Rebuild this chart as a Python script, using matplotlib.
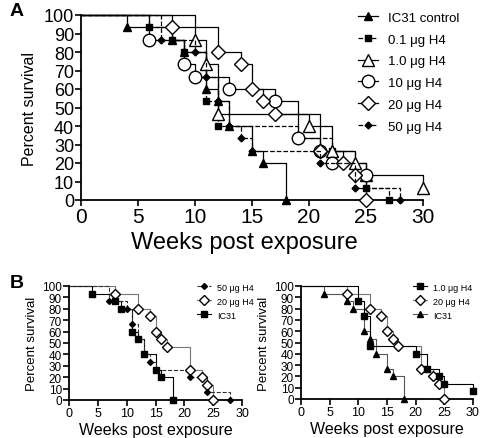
import matplotlib
matplotlib.use("Agg")
import matplotlib.pyplot as plt
from matplotlib.lines import Line2D

plt.rcParams['font.family'] = ['Liberation Sans', 'DejaVu Sans']

# survival data (weeks, percent survival)
weeks_ic31 = [0, 4, 8, 9, 11, 12, 13, 15, 16, 18]
surv_ic31 = [100, 93.3, 86.7, 80, 60, 53.3, 40, 26.7, 20, 0]
weeks_h4_01 = [0, 6, 8, 9, 11, 12, 19, 22, 24, 25, 27]
surv_h4_01 = [100, 93.3, 86.7, 80, 53.3, 40, 33.3, 26.7, 13.3, 6.7, 0]
weeks_h4_1 = [0, 10, 11, 12, 20, 22, 24, 25, 30]
surv_h4_1 = [100, 86.7, 73.3, 46.7, 40, 26.7, 20, 13.3, 6.7]
weeks_h4_10 = [0, 6, 9, 10, 13, 17, 19, 21, 22, 25]
surv_h4_10 = [100, 86.7, 73.3, 66.7, 60, 53.3, 33.3, 26.7, 20, 13.3]
weeks_h4_20 = [0, 8, 12, 14, 15, 16, 17, 21, 23, 24, 25]
surv_h4_20 = [100, 93.3, 80, 73.3, 60, 53.3, 46.7, 26.7, 20, 13.3, 0]
weeks_h4_50 = [0, 7, 10, 11, 12, 13, 14, 15, 21, 24, 28]
surv_h4_50 = [100, 86.7, 80, 66.7, 53.3, 40, 33.3, 26.7, 20, 6.7, 0]

labels_a = ["IC31 control", "0.1 \u03bcg H4", "1.0 \u03bcg H4", "10 \u03bcg H4", "20 \u03bcg H4", "50 \u03bcg H4"]


def km(ax, t, s, marker, ms, mfc, ls, color, lw, zorder):
    ax.step(t, s, where='post', color=color, ls=ls, lw=lw, zorder=zorder, clip_on=False)
    ax.plot(t[1:], s[1:], ls='none', marker=marker, ms=ms, mfc=mfc, mec='black',
            mew=1.0, zorder=zorder + 1, clip_on=False)
    return Line2D([], [], color=color, ls=ls, lw=lw, marker=marker, ms=ms, mfc=mfc, mec='black')


def style(ax, fs_ytick, fs_xtick, fs_ylab, fs_xlab, ypad, xpad):
    ax.set_xlim(0, 30)
    ax.set_ylim(0, 100)
    ax.set_xticks(range(0, 31, 5))
    ax.set_yticks(range(0, 101, 10))
    ax.spines['top'].set_visible(False)
    ax.spines['right'].set_visible(False)
    ax.spines['left'].set_linewidth(1.3)
    ax.spines['bottom'].set_linewidth(1.3)
    ax.tick_params(width=1.2, length=4, pad=1)
    ax.tick_params(axis='y', labelsize=fs_ytick)
    ax.tick_params(axis='x', labelsize=fs_xtick)
    ax.set_ylabel("Percent survival", fontsize=fs_ylab, labelpad=ypad)
    ax.set_xlabel("Weeks post exposure", fontsize=fs_xlab, labelpad=xpad)


fig = plt.figure(figsize=(4.84, 4.39), dpi=100)

# panel A
axA = fig.add_axes([81 / 484, 1 - 201 / 439, 342 / 484, 185 / 439])
h = []
h.append(km(axA, weeks_ic31, surv_ic31, '^', 6, 'black', '-', 'black', 0.9, 3))
h.append(km(axA, weeks_h4_01, surv_h4_01, 's', 5, 'black', '--', 'black', 0.9, 3))
h.append(km(axA, weeks_h4_1, surv_h4_1, '^', 9, 'white', '-', 'black', 0.9, 4))
h.append(km(axA, weeks_h4_10, surv_h4_10, 'o', 9, 'white', '-', 'black', 0.9, 4))
h.append(km(axA, weeks_h4_20, surv_h4_20, 'D', 7, 'white', '-', 'black', 0.9, 4))
h.append(km(axA, weeks_h4_50, surv_h4_50, 'D', 3.5, 'black', '--', 'black', 0.9, 5))
style(axA, 13, 15, 11.5, 17, 5, 4)
axA.xaxis.set_label_coords(0.477, -0.17)
axA.legend(h, labels_a, loc='upper left', bbox_to_anchor=(0.81, 1.018), frameon=False,
           fontsize=9.5, handlelength=1.5, labelspacing=0.72, handletextpad=0.8,
           borderaxespad=0, borderpad=0)
fig.text(10 / 484, 1 - 12 / 439, "A", fontsize=14, fontweight='bold', va='center')

# panel B left
axB1 = fig.add_axes([69 / 484, 1 - 401 / 439, 173 / 484, 114 / 439])
hb = []
hb.append(km(axB1, weeks_h4_50, surv_h4_50, 'D', 3, 'black', '--', '#333333', 0.8, 4))
hb.append(km(axB1, weeks_h4_20, surv_h4_20, 'D', 5, 'white', '-', '#777777', 0.8, 3))
hb.append(km(axB1, weeks_ic31, surv_ic31, 's', 5, 'black', '-', 'black', 0.8, 3))
style(axB1, 8.5, 9, 9.5, 11.5, 3, 2)
axB1.legend(hb, ["50 \u03bcg H4", "20 \u03bcg H4", "IC31"], loc='upper left',
            bbox_to_anchor=(0.74, 1.03), frameon=False, fontsize=6.5, handlelength=1.6,
            labelspacing=0.55, handletextpad=0.6, borderaxespad=0, borderpad=0)
fig.text(10 / 484, 1 - 283 / 439, "B", fontsize=14, fontweight='bold', va='center')

# panel B right
axB2 = fig.add_axes([301 / 484, 1 - 400 / 439, 172 / 484, 113 / 439])
hc = []
hc.append(km(axB2, weeks_h4_1, surv_h4_1, 's', 5, 'black', '-', 'black', 0.8, 4))
hc.append(km(axB2, weeks_h4_20, surv_h4_20, 'D', 5, 'white', '-', '#777777', 0.8, 3))
hc.append(km(axB2, weeks_ic31, surv_ic31, '^', 4, 'black', '-', '#555555', 0.8, 3))
style(axB2, 8.5, 9, 9.5, 11.5, 3, 2)
axB2.legend(hc, ["1.0 \u03bcg H4", "20 \u03bcg H4", "IC31"], loc='upper left',
            bbox_to_anchor=(0.65, 1.03), frameon=False, fontsize=6.5, handlelength=1.6,
            labelspacing=0.55, handletextpad=0.6, borderaxespad=0, borderpad=0)

fig.savefig("out.png", dpi=100)
